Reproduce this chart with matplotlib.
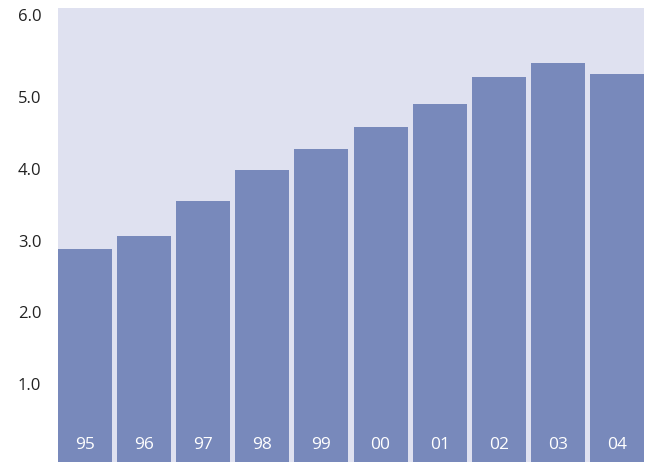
import matplotlib.pyplot as plt
import numpy as np

years = ["95", "96", "97", "98", "99", "00", "01", "02", "03", "04"]
values = np.array([2.88, 3.06, 3.56, 3.98, 4.28, 4.58, 4.90, 5.28, 5.47, 5.33])
yticks = [1.0, 2.0, 3.0, 4.0, 5.0, 6.0]

plt.rcParams['font.family'] = ['Open Sans', 'DejaVu Sans']

fig = plt.figure(figsize=(6.52, 4.62), dpi=100)
ax = fig.add_axes([58 / 652, 0, 586 / 652, 454 / 462])
ax.set_facecolor('#dfe1f0')

ylo, yhi = -0.084, 6.243
w = 0.915
x = np.arange(len(years))
# bars run down to the bottom edge of the plot area
ax.bar(x, values - ylo, bottom=ylo, width=w, color='#7889bb', zorder=2)

# year labels sit inside the bars, near the bottom
for xi, lab in zip(x, years):
    ax.text(xi, 0.037, lab, transform=ax.get_xaxis_transform(),
            ha='center', va='center', color='white', fontsize=12.5)

ax.set_xlim(-w / 2, len(years) - 1 + w / 2)
ax.set_ylim(ylo, yhi)
ax.set_yticks(yticks)
ax.set_yticklabels(["%.1f" % t for t in yticks])
ax.get_yticklabels()[-1].set_va('bottom')
ax.set_xticks([])
ax.tick_params(axis='y', length=0, pad=12, labelsize=12, labelcolor='#222222')
for s in ax.spines.values():
    s.set_visible(False)

fig.savefig('out.png', dpi=100)
